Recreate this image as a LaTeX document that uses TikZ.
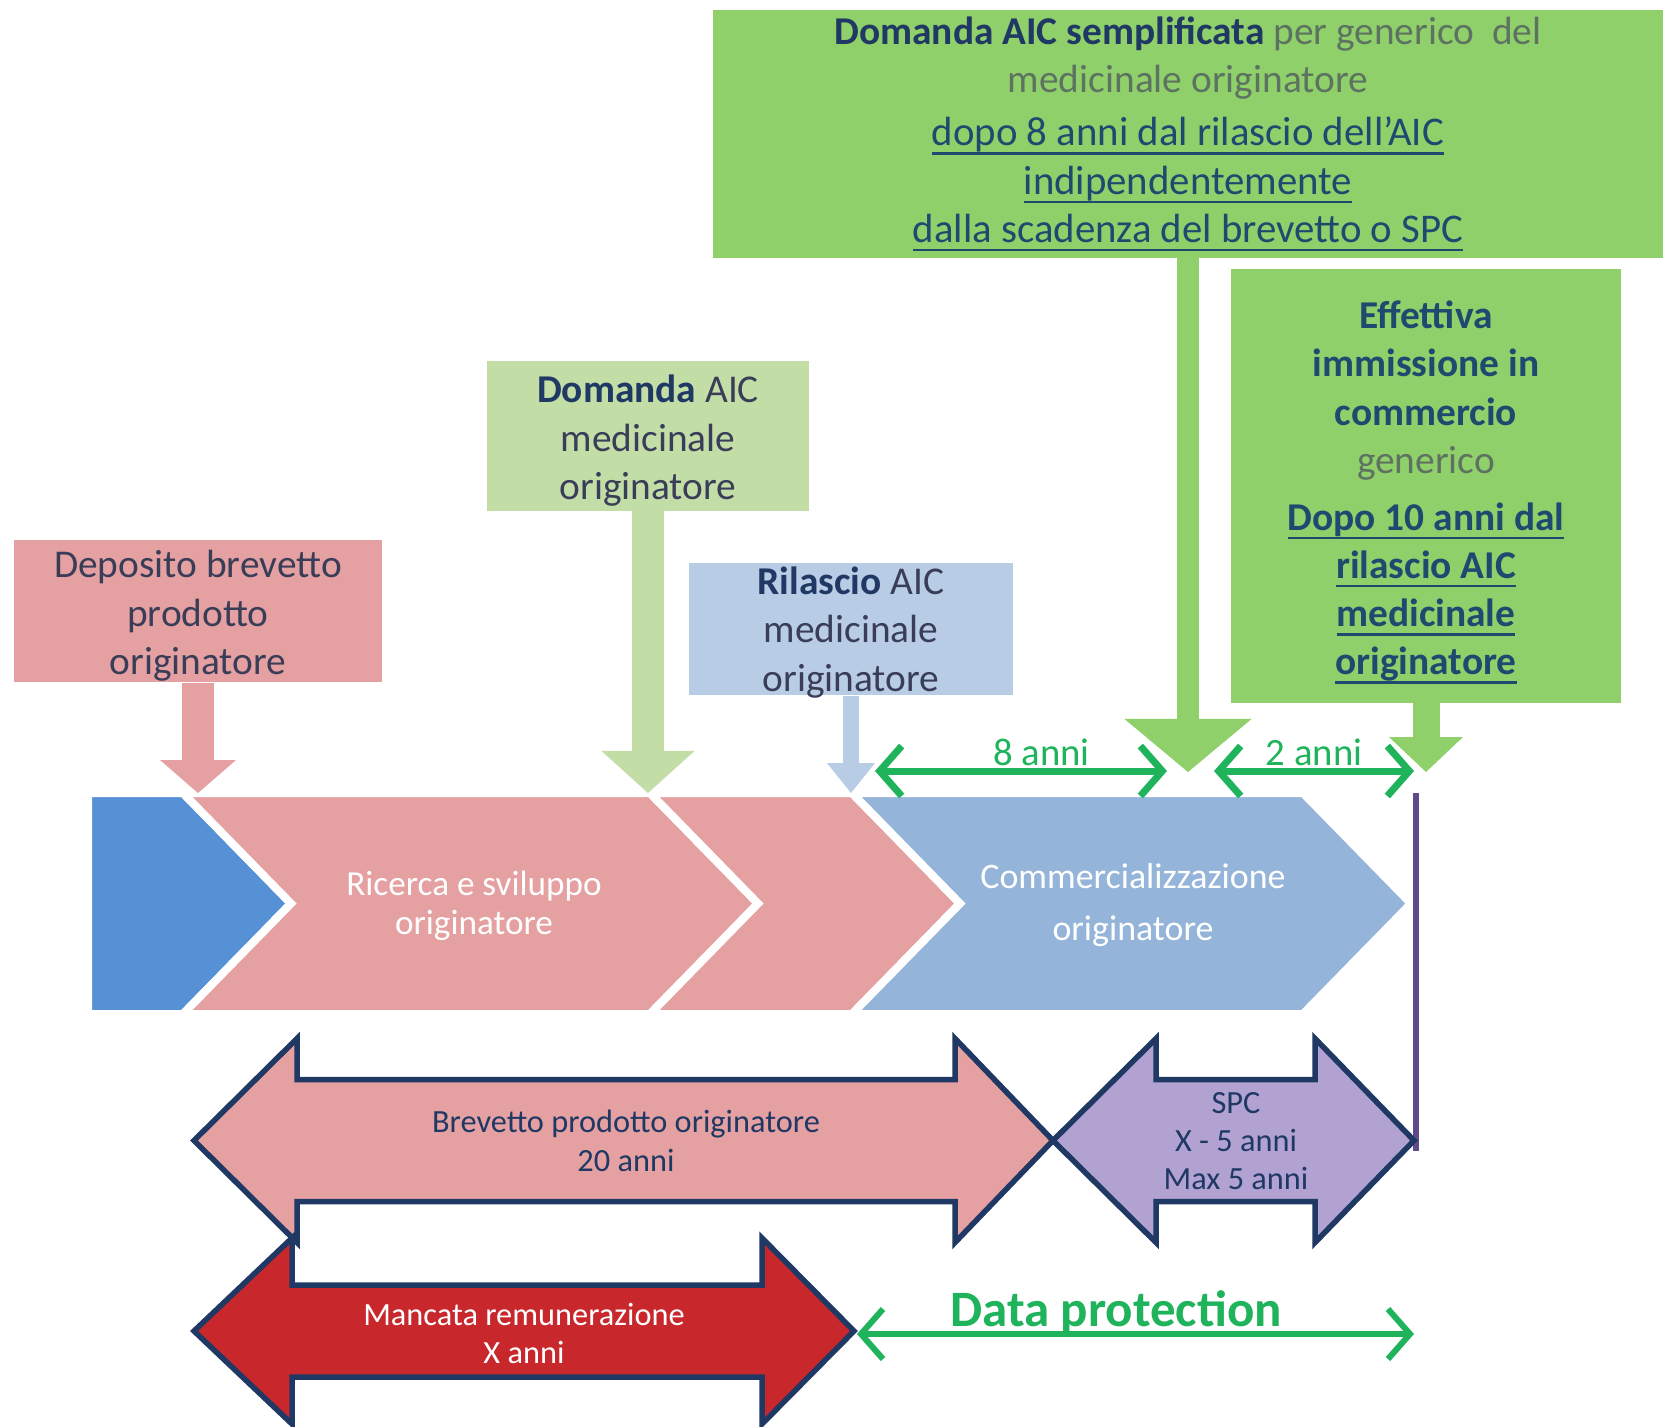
\documentclass[tikz,border=0pt]{standalone}
\usepackage{fontspec}
\setmainfont{Carlito}
\usetikzlibrary{arrows.meta, calc, positioning}

\definecolor{pinkc}{HTML}{E5A1A2}
\definecolor{lgreenc}{HTML}{C3DDA7}
\definecolor{greenc}{HTML}{8FD06B}
\definecolor{lbluec}{HTML}{B8CCE5}
\definecolor{dbluec}{HTML}{5690D5}
\definecolor{mbluec}{HTML}{95B4D9}
\definecolor{lavc}{HTML}{B2A2D2}
\definecolor{redc}{HTML}{C8282C}
\definecolor{navyc}{HTML}{1F3864}
\definecolor{tealc}{HTML}{1E4A70}
\definecolor{grayc}{HTML}{5E7261}
\definecolor{darkc}{HTML}{3A3D58}
\definecolor{purplec}{HTML}{5F4B8B}
\definecolor{arrowgc}{HTML}{1FB35B}

\newsavebox\ulbox
\newcommand{\ulined}[1]{\sbox\ulbox{#1}\rlap{\rule[-2.6pt]{\wd\ulbox}{0.75pt}}\usebox\ulbox}
\newcommand{\ulbig}[1]{{\fontsize{11.6}{13.7}\selectfont\ulined{#1}}}
\newcommand{\topstrut}{\rule{0pt}{10.5pt}}
\newcommand{\nodepth}[1]{\raisebox{0pt}[\height][0pt]{#1}}

\tikzstyle{infobox} = [rectangle, align=center, inner sep=0pt, text=darkc, font=\fontsize{11.2}{13.7}\selectfont]
\tikzstyle{chevron} = [draw=white, line width=0.08cm, line join=miter]
\tikzstyle{bigarrow} = [draw=navyc, line width=0.055cm, line join=miter]
\tikzstyle{bandtext} = [align=center, text=white, inner sep=0pt]
\tikzstyle{yeararrow} = [draw=arrowgc, line width=0.07cm, {Straight Barb[length=0.22cm, width=0.5cm]}-{Straight Barb[length=0.22cm, width=0.5cm]}]
\tikzstyle{yearlabel} = [text=arrowgc, inner sep=0pt, anchor=base, font=\fontsize{11}{13}\selectfont]

\begin{document}
\begin{tikzpicture}[x=0.01cm, y=-0.01cm]
\useasboundingbox (0,0) rectangle (1663,1426);

% boxes
\node (genbox) [infobox, fill=greenc, minimum width=9.5cm, minimum height=2.47cm, text=tealc] at (1188,134) {%
{\bfseries\color{navyc}Domanda AIC semplificata} {\color{grayc}per generico\ \ del}\\
{\color{grayc}medicinale originatore}\\[1.5pt]
\ulbig{dopo 8 anni dal rilascio dell’AIC}\\
\ulbig{indipendentemente}\\
\ulbig{dalla scadenza del brevetto o SPC}};
\node (effbox) [infobox, fill=greenc, minimum width=3.89cm, minimum height=4.33cm, text=tealc] at (1426,486) {%
\rule{0pt}{11.5pt}\textbf{Effettiva}\\
\textbf{immissione in}\\
\textbf{commercio}\\
{\color{grayc}generico}\\[2.5pt]
\ulined{\textbf{Dopo 10 anni dal}}\\
\ulined{\textbf{rilascio AIC}}\\
\ulined{\textbf{medicinale}}\\
\ulined{\textbf{originatore}}};
\node (domanda) [infobox, fill=lgreenc, minimum width=3.21cm, minimum height=1.49cm] at (648,436) {\topstrut{\bfseries\color{navyc}Domanda} AIC\\medicinale\\originatore};
\node (deposito) [infobox, fill=pinkc, minimum width=3.67cm, minimum height=1.42cm] at (198,611) {\topstrut Deposito brevetto\\prodotto\\originatore};
\node (rilascio) [infobox, fill=lbluec, minimum width=3.24cm, minimum height=1.32cm] at (851,629) {{\bfseries\color{navyc}Rilascio} AIC\\medicinale\\\nodepth{originatore}};

% timeline band
\filldraw [chevron, fill=dbluec] (88,793) -- (183,793) -- (291,903.5) -- (183,1014) -- (88,1014) -- cycle;
\filldraw [chevron, fill=pinkc] (183,793) -- (650,793) -- (758,903.5) -- (650,1014) -- (183,1014) -- (291,903.5) -- cycle;
\filldraw [chevron, fill=pinkc] (650,793) -- (852,793) -- (960,903.5) -- (852,1014) -- (650,1014) -- (758,903.5) -- cycle;
\filldraw [chevron, fill=mbluec] (852,793) -- (1303,793) -- (1411,903.5) -- (1303,1014) -- (852,1014) -- (960,903.5) -- cycle;
\node (ricerca) [bandtext, font=\fontsize{10}{11.1}\selectfont] at (474,906) {Ricerca e sviluppo\\originatore};
\node (commerc) [bandtext, font=\fontsize{10.2}{15}\selectfont] at (1133,905) {Commercializzazione\\originatore};

\coordinate (bandtop) at (0,793);
\coordinate (gentop) at (0,772);
\draw [purplec, line width=0.06cm] (1416,793) -- (1416,1151);

% block arrows from boxes
\draw [pinkc, line width=0.32cm, -{Triangle[width=0.76cm, length=0.33cm, line width=0pt]}] (deposito.south) -- (deposito.south |- bandtop);
\draw [lgreenc, line width=0.32cm, -{Triangle[width=0.93cm, length=0.42cm, line width=0pt]}] (domanda.south) -- (domanda.south |- bandtop);
\draw [lbluec, line width=0.16cm, -{Triangle[width=0.48cm, length=0.3cm, line width=0pt]}] (rilascio.south) -- (rilascio.south |- bandtop);
\draw [greenc, line width=0.22cm, -{Triangle[width=1.27cm, length=0.53cm, line width=0pt]}] (genbox.south) -- (genbox.south |- gentop);
\draw [greenc, line width=0.27cm, -{Triangle[width=0.74cm, length=0.35cm, line width=0pt]}] (effbox.south) -- (effbox.south |- gentop);

% year spans
\coordinate (r8a) at (875,771);
\coordinate (r8b) at (1167,771);
\coordinate (r2a) at (1214,771);
\coordinate (r2b) at (1414,771);
\draw [yeararrow] (r8a) -- node (lbl8) [yearlabel, pos=0.57, yshift=1.5pt] {8 anni} (r8b);
\draw [yeararrow] (r2a) -- node (lbl2) [yearlabel, pos=0.5, yshift=1.5pt] {2 anni} (r2b);

% protection periods
\filldraw [bigarrow, fill=pinkc] (194,1140.5) -- (297,1038.5) -- (297,1079.5) -- (955,1079.5) -- (955,1038.5) -- (1053,1140.5) -- (955,1242.5) -- (955,1201.5) -- (297,1201.5) -- (297,1242.5) -- cycle;
\filldraw [bigarrow, fill=lavc] (1053,1140.5) -- (1156,1038.5) -- (1156,1079.5) -- (1315,1079.5) -- (1315,1038.5) -- (1414,1140.5) -- (1315,1242.5) -- (1315,1201.5) -- (1156,1201.5) -- (1156,1242.5) -- cycle;
\filldraw [bigarrow, fill=redc] (194,1331) -- (292,1238) -- (292,1285) -- (762,1285) -- (762,1238) -- (854,1331) -- (762,1424) -- (762,1377) -- (292,1377) -- (292,1424) -- cycle;
\node (brevtext) [align=center, inner sep=0pt, text=navyc, font=\fontsize{9.2}{11.1}\selectfont] at (626,1141) {Brevetto prodotto originatore\\20 anni};
\node (spctext) [align=center, inner sep=0pt, text=navyc, font=\fontsize{9.2}{10.8}\selectfont] at (1236,1141) {SPC\\X - 5 anni\\Max 5 anni};
\node (mancatext) [align=center, inner sep=0pt, text=white, font=\fontsize{9.2}{10.8}\selectfont] at (524,1333) {Mancata remunerazione\\X anni};

\coordinate (dpa) at (857,1334);
\coordinate (dpb) at (1414,1334);
\draw [yeararrow, line width=0.06cm] (dpa) -- node (dplabel) [yearlabel, pos=0.465, yshift=2pt, font=\bfseries\fontsize{14.5}{17}\selectfont] {Data protection} (dpb);
\end{tikzpicture}
\end{document}
